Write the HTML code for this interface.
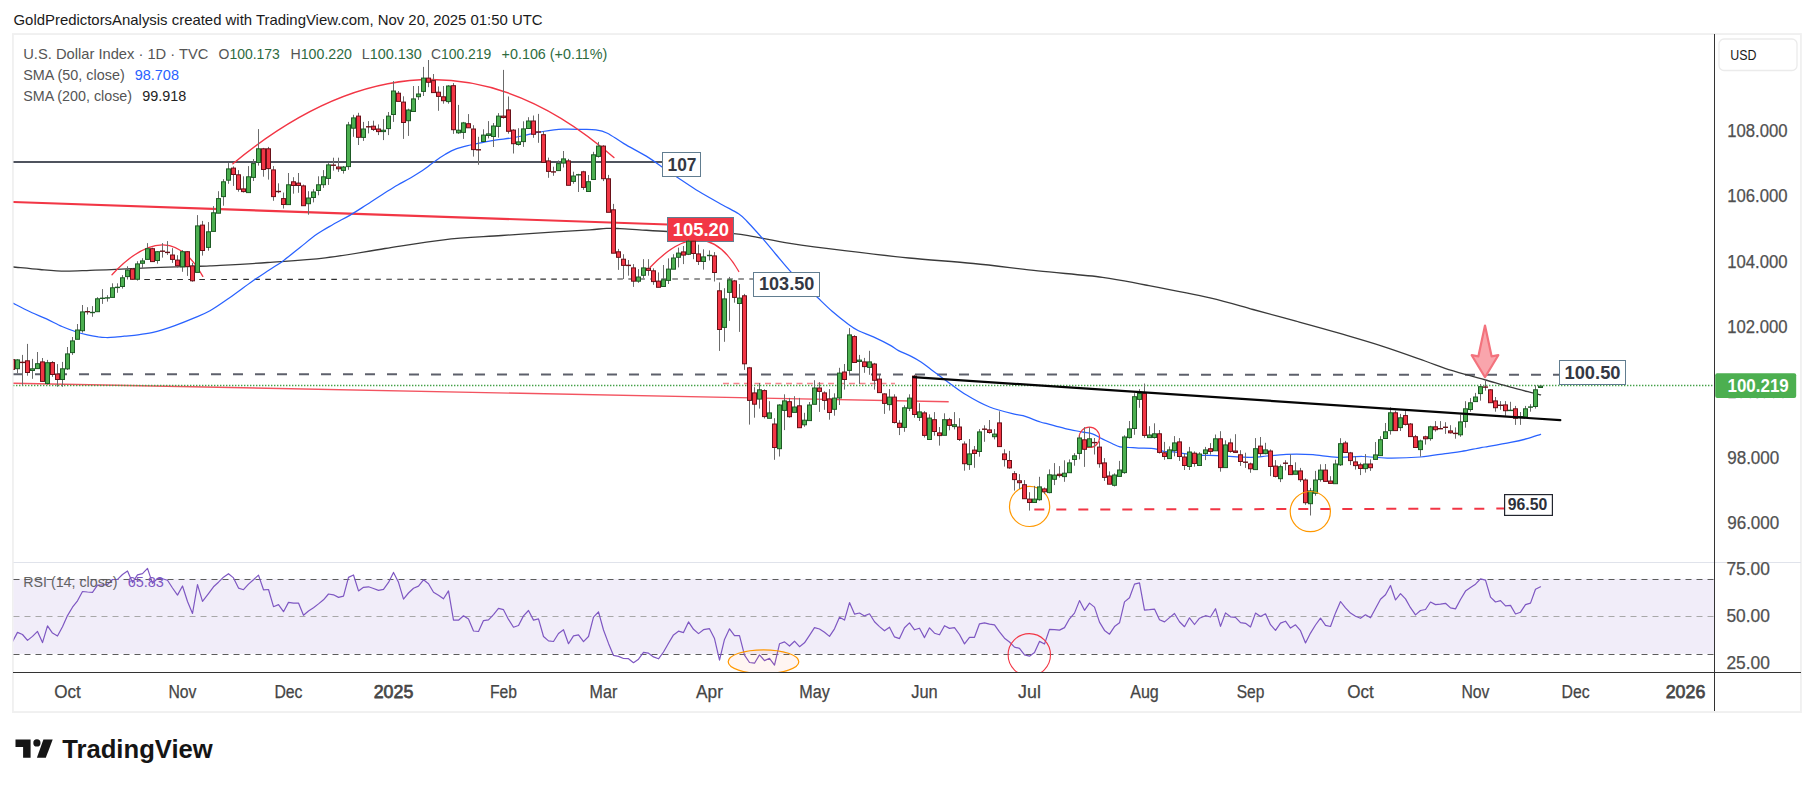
<!DOCTYPE html>
<html><head><meta charset="utf-8"><title>U.S. Dollar Index chart</title>
<style>html,body{margin:0;padding:0;background:#fff;overflow:hidden}body{width:1814px;height:787px;position:relative}</style></head>
<body>
<svg width="1814" height="787" viewBox="0 0 1814 787" font-family='"Liberation Sans", sans-serif' style="position:absolute;left:0;top:0">
<rect x="0" y="0" width="1814" height="787" fill="#ffffff"/>
<rect x="12.9" y="34.05" width="1788" height="678" fill="#ffffff" stroke="#f0f0f0" stroke-width="1.9"/>
<defs><clipPath id="main"><rect x="13.5" y="35" width="1700.5" height="527"/></clipPath><clipPath id="rsi"><rect x="13.5" y="563" width="1700.5" height="109"/></clipPath></defs>
<rect x="13.5" y="578.8" width="1700.5" height="75" fill="#f1edf9"/>
<line x1="13.5" y1="562.5" x2="1801" y2="562.5" stroke="#e0e3eb" stroke-width="1"/>
<line x1="13.5" y1="579.5" x2="1714" y2="579.5" stroke="#5c5c5c" stroke-width="1" stroke-dasharray="6,5"/>
<line x1="13.5" y1="616.5" x2="1714" y2="616.5" stroke="#a8a8a8" stroke-width="1" stroke-dasharray="6,5"/>
<line x1="13.5" y1="654.5" x2="1714" y2="654.5" stroke="#5c5c5c" stroke-width="1" stroke-dasharray="6,5"/>
<g clip-path="url(#main)">
<line x1="13" y1="162" x2="663" y2="162" stroke="#4f535e" stroke-width="2"/>
<line x1="13" y1="202" x2="668" y2="224.5" stroke="#f23645" stroke-width="2.2"/>
<line x1="13" y1="383.2" x2="948.7" y2="401.8" stroke="#f23645" stroke-width="1.4" opacity="0.85"/>
<line x1="144.3" y1="279.5" x2="753.4" y2="278.95" stroke="#2e2e2e" stroke-width="1.1" stroke-dasharray="5.6,5.4"/>
<line x1="13" y1="374.25" x2="1559" y2="374.75" stroke="#5d606b" stroke-width="2" stroke-dasharray="10,12"/>
<line x1="723" y1="383.4" x2="895" y2="383.4" stroke="#f23645" stroke-width="1.5" stroke-dasharray="6,4.5" opacity="0.6"/>
<line x1="13" y1="385.5" x2="1714" y2="385.5" stroke="#43a047" stroke-width="1.3" stroke-dasharray="1.4,1.6"/>
<path d="M13.3,267.0 C17.8,267.4 31.3,268.8 40.0,269.5 C48.7,270.2 57.0,271.0 65.3,271.1 C73.6,271.2 81.6,270.6 90.0,270.3 C98.4,270.0 105.2,269.8 115.8,269.3 C126.4,268.9 140.8,268.1 153.7,267.6 C166.6,267.1 183.6,266.7 193.0,266.4 C202.4,266.1 197.6,266.5 210.0,265.9 C222.4,265.2 248.4,263.9 267.6,262.5 C286.8,261.1 305.8,260.1 325.4,257.8 C345.0,255.5 365.3,251.5 385.0,248.5 C404.7,245.5 424.4,242.0 443.8,239.8 C463.2,237.6 482.4,236.9 501.7,235.5 C521.0,234.1 544.9,232.5 559.6,231.6 C574.3,230.7 582.2,230.3 590.0,229.8 C597.8,229.3 601.5,228.6 606.5,228.4 C611.5,228.2 614.5,228.4 620.0,228.6 C625.5,228.8 631.6,229.3 639.5,229.8 C647.4,230.3 657.5,231.1 667.6,231.5 C677.7,231.9 689.0,232.0 700.0,232.3 C711.0,232.7 724.5,232.8 733.7,233.6 C742.9,234.4 745.8,235.3 755.2,236.9 C764.6,238.5 775.1,241.0 790.0,243.3 C804.9,245.6 824.7,248.2 844.5,250.6 C864.3,253.0 887.5,255.8 909.0,258.0 C930.5,260.1 952.0,261.4 973.5,263.5 C995.0,265.6 1016.5,268.6 1038.0,270.9 C1059.5,273.2 1084.6,274.9 1102.5,277.3 C1120.4,279.7 1127.6,281.6 1145.5,285.0 C1163.4,288.4 1192.1,293.8 1210.0,297.9 C1227.9,302.0 1238.7,305.6 1253.0,309.5 C1267.3,313.4 1281.7,317.2 1296.0,321.2 C1310.3,325.1 1324.7,329.0 1339.0,333.2 C1353.3,337.4 1367.7,341.5 1382.0,346.1 C1396.3,350.7 1414.5,357.3 1425.0,361.0 C1435.5,364.7 1438.1,366.0 1445.0,368.3 C1451.9,370.6 1459.5,372.7 1466.3,374.6 C1473.1,376.6 1478.3,377.9 1485.7,380.0 C1493.1,382.1 1502.6,385.0 1510.6,387.2 C1518.6,389.4 1528.8,391.9 1533.8,393.2 C1538.8,394.5 1539.5,394.6 1540.6,394.9" fill="none" stroke="#3a3a3a" stroke-width="1.3" stroke-linecap="round" />
<path d="M13.0,303.2 C13.6,303.5 13.4,303.4 16.6,305.0 C19.8,306.6 27.1,310.5 32.1,312.8 C37.1,315.1 41.5,316.6 46.5,318.9 C51.5,321.2 57.2,324.4 62.0,326.5 C66.8,328.6 71.0,330.1 75.2,331.5 C79.4,332.9 83.4,333.9 87.3,334.8 C91.2,335.7 95.3,336.4 98.4,336.9 C101.5,337.3 103.2,337.4 106.0,337.5 C108.8,337.6 111.9,337.4 115.0,337.2 C118.1,337.0 120.6,336.6 124.4,336.2 C128.2,335.8 133.4,335.4 138.0,334.8 C142.6,334.2 147.7,333.5 151.9,332.6 C156.1,331.7 159.2,330.8 163.0,329.6 C166.8,328.5 169.8,327.6 174.8,325.7 C179.8,323.8 187.2,320.9 193.1,318.4 C199.0,315.9 203.8,314.3 210.0,310.8 C216.2,307.3 223.0,302.4 230.0,297.5 C237.0,292.6 245.5,286.1 252.0,281.5 C258.5,276.9 264.1,273.4 269.2,270.0 C274.3,266.6 277.3,265.1 282.4,261.4 C287.5,257.6 294.2,252.1 300.0,247.5 C305.8,242.9 311.6,237.9 317.1,234.1 C322.6,230.3 327.5,227.7 333.0,224.5 C338.5,221.3 344.5,218.4 350.2,215.1 C355.9,211.8 361.2,208.2 367.0,204.5 C372.8,200.8 379.9,196.1 385.0,192.8 C390.1,189.6 393.5,187.4 397.7,185.0 C401.9,182.6 405.9,180.6 410.0,178.2 C414.1,175.8 418.2,173.5 422.5,170.6 C426.8,167.7 431.9,163.4 435.7,160.7 C439.4,158.0 441.7,156.4 445.0,154.5 C448.3,152.6 451.3,150.7 455.5,149.1 C459.7,147.5 466.0,146.1 470.4,145.0 C474.8,143.9 477.9,143.4 482.0,142.6 C486.1,141.8 490.2,140.9 495.2,140.1 C500.1,139.3 506.8,138.8 511.7,138.0 C516.6,137.2 519.6,136.4 524.8,135.3 C530.0,134.2 536.6,132.5 542.9,131.5 C549.2,130.5 556.2,129.5 562.8,129.2 C569.4,128.8 577.1,129.3 582.6,129.4 C588.1,129.5 591.7,129.3 595.8,129.9 C599.9,130.5 602.7,130.9 607.4,133.2 C612.1,135.5 617.0,139.5 623.9,143.6 C630.8,147.7 641.7,153.3 648.6,157.6 C655.5,161.9 659.7,165.4 665.2,169.2 C670.7,173.0 676.1,176.5 681.7,180.2 C687.3,183.9 692.3,187.4 699.0,191.5 C705.7,195.6 715.5,201.0 722.1,204.7 C728.7,208.4 734.5,211.1 738.6,213.8 C742.7,216.6 742.8,216.9 746.9,221.2 C751.0,225.5 758.5,233.8 763.4,239.4 C768.2,245.0 771.6,249.3 776.0,254.5 C780.4,259.6 785.0,265.4 789.5,270.3 C794.0,275.2 798.4,279.5 803.0,284.0 C807.6,288.5 812.4,292.8 817.3,297.3 C822.1,301.9 826.9,306.8 832.1,311.3 C837.3,315.8 844.2,321.2 848.6,324.5 C853.0,327.8 854.4,328.7 858.5,330.8 C862.6,332.9 868.2,334.5 873.4,336.9 C878.6,339.3 885.7,342.8 889.9,345.1 C894.1,347.4 894.9,348.7 898.5,350.6 C902.1,352.5 908.0,354.7 911.7,356.6 C915.5,358.5 917.8,359.9 921.0,362.0 C924.2,364.1 926.8,366.3 931.0,369.4 C935.2,372.5 940.4,376.5 946.2,380.7 C952.1,384.9 958.9,390.4 966.1,394.8 C973.3,399.2 981.4,403.8 989.6,407.0 C997.9,410.2 1010.0,412.9 1015.6,414.3 C1021.2,415.8 1018.9,414.4 1023.0,415.7 C1027.1,417.0 1036.3,420.6 1040.4,422.0 C1044.5,423.4 1043.7,422.8 1047.8,423.9 C1051.9,425.0 1059.5,427.3 1065.2,428.6 C1070.9,429.9 1077.2,431.0 1081.7,431.9 C1086.2,432.8 1089.4,432.9 1092.4,433.9 C1095.5,434.9 1097.8,436.6 1100.0,437.7 C1102.2,438.8 1103.6,439.5 1105.6,440.5 C1107.6,441.5 1109.6,442.4 1112.0,443.5 C1114.4,444.6 1116.9,446.2 1119.9,446.9 C1122.9,447.6 1126.7,447.3 1129.8,447.5 C1132.9,447.7 1135.0,448.0 1138.6,448.1 C1142.2,448.2 1148.1,448.1 1151.3,448.3 C1154.5,448.6 1155.8,449.1 1158.0,449.6 C1160.2,450.2 1162.2,451.2 1164.5,451.6 C1166.8,452.0 1167.5,451.2 1171.7,451.7 C1176.0,452.1 1184.8,453.7 1190.0,454.3 C1195.2,454.9 1198.4,455.1 1203.0,455.3 C1207.6,455.5 1209.5,455.4 1217.4,455.7 C1225.3,456.0 1242.2,457.2 1250.4,457.3 C1258.7,457.4 1261.4,456.4 1266.9,456.0 C1272.4,455.6 1278.5,454.9 1283.4,454.6 C1288.3,454.3 1291.6,454.0 1296.5,454.0 C1301.4,454.0 1306.1,454.1 1313.0,454.7 C1319.9,455.2 1329.5,457.0 1337.8,457.3 C1346.1,457.6 1354.3,456.4 1362.6,456.5 C1370.8,456.6 1377.7,458.0 1387.3,458.1 C1396.9,458.2 1410.8,457.8 1420.4,457.0 C1430.1,456.2 1438.3,454.5 1445.2,453.6 C1452.1,452.7 1455.9,452.4 1461.7,451.4 C1467.5,450.4 1476.1,448.5 1480.0,447.8 C1483.9,447.1 1480.0,447.9 1485.1,447.0 C1490.2,446.1 1503.6,443.8 1510.6,442.4 C1517.6,441.0 1522.1,440.0 1527.1,438.7 C1532.1,437.4 1538.3,435.0 1540.6,434.3" fill="none" stroke="#2962ff" stroke-width="1.25" stroke-linecap="round" />
<path d="M112,274.7 Q168.6,214.1 202.8,276.4" fill="none" stroke="#f23645" stroke-width="1.3" stroke-linecap="round"/>
<path d="M232.9,163.7 Q432.4,-1.4 613.9,157.5" fill="none" stroke="#f23645" stroke-width="1.4" stroke-linecap="round"/>
<path d="M650.2,267.3 Q704.2,210.6 738.8,271.5" fill="none" stroke="#f23645" stroke-width="1.3" stroke-linecap="round"/>
<line x1="1034.3" y1="509.6" x2="1504" y2="508.6" stroke="#f23645" stroke-width="2" stroke-dasharray="10,12"/>
<circle cx="1029.6" cy="506.4" r="20.1" fill="none" stroke="#ff9800" stroke-width="1.2"/>
<circle cx="1089.4" cy="437.3" r="10.2" fill="none" stroke="#f23645" stroke-width="1.25"/>
<rect x="662.5" y="152.5" width="38.0" height="24.0" fill="#fff" stroke="#617d90" stroke-width="1"/>
<text x="667.5" y="170.7" font-size="18" fill="#343843" font-weight="bold" text-anchor="start" textLength="29.0" lengthAdjust="spacingAndGlyphs" >107</text>
<rect x="667.5" y="217.5" width="66.0" height="24.0" fill="#f23645" stroke="#617d90" stroke-width="1"/>
<text x="672.8" y="235.6" font-size="18" fill="#ffffff" font-weight="bold" text-anchor="start" textLength="56.2" lengthAdjust="spacingAndGlyphs" >105.20</text>
<rect x="753.5" y="272.5" width="66.0" height="24.0" fill="#fff" stroke="#617d90" stroke-width="1"/>
<text x="759.0" y="290.1" font-size="18" fill="#343843" font-weight="bold" text-anchor="start" textLength="55.3" lengthAdjust="spacingAndGlyphs" >103.50</text>
<rect x="1559.5" y="360.5" width="66.0" height="24.0" fill="#fff" stroke="#617d90" stroke-width="1"/>
<text x="1564.5" y="378.6" font-size="18" fill="#343843" font-weight="bold" text-anchor="start" textLength="56.0" lengthAdjust="spacingAndGlyphs" >100.50</text>
<rect x="1504.6" y="494.6" width="47.8" height="20.8" fill="#fff" stroke="#22252e" stroke-width="1.2"/>
<text x="1507.8" y="510.1" font-size="16.8" fill="#2c303a" font-weight="bold" text-anchor="start" textLength="39.5" lengthAdjust="spacingAndGlyphs" >96.50</text>
<path d="M12.5,359.1V369.3M17.5,359.1V373.3M22.5,354.9V385.4M27.5,343.9V375.7M32.5,358.9V378.8M37.5,352.0V368.5M42.5,358.0V381.2M47.5,359.9V384.6M52.5,361.1V376.8M57.5,364.1V386.8M62.5,361.9V386.8M67.5,347.0V370.0M72.5,337.0V354.9M77.5,324.0V339.2M82.5,305.0V332.6M87.5,307.2V314.6M92.5,306.1V316.8M97.5,297.2V311.6M102.5,289.1V303.9M107.5,295.2V301.6M112.5,283.3V297.2M117.5,283.3V292.8M122.5,275.1V288.6M127.5,266.3V279.5M132.5,268.1V279.5M137.5,261.2V280.6M142.5,258.2V268.1M147.5,243.1V259.3M152.5,247.7V261.8M157.5,251.0V263.7M162.5,243.1V257.6M167.5,241.1V254.9M172.5,248.2V262.9M177.5,255.2V267.6M182.5,250.1V271.8M187.5,251.0V275.9M192.5,262.9V281.7M197.5,215.1V272.2M202.5,220.9V255.6M208.5,222.1V250.7M213.5,206.1V231.3M218.5,191.2V213.2M223.5,179.1V205.7M228.5,163.1V183.8M233.5,166.4V185.9M238.5,170.1V191.7M243.5,176.3V192.5M248.5,166.1V192.5M253.5,159.0V181.0M258.5,129.1V165.6M263.5,147.9V176.7M268.5,146.9V179.6M273.5,166.1V200.8M278.5,183.3V193.2M283.5,192.5V208.5M288.5,173.0V204.4M293.5,177.2V193.7M298.5,173.0V192.8M303.5,184.6V205.6M308.5,191.2V214.7M313.5,189.2V202.4M318.5,176.3V195.3M323.5,170.1V187.9M328.5,163.1V184.9M333.5,157.7V170.6M338.5,157.7V171.9M343.5,166.0V173.6M348.5,121.9V169.8M353.5,114.8V136.8M358.5,112.8V145.0M363.5,121.9V140.9M368.5,121.1V133.4M373.5,120.7V131.0M378.5,124.4V135.1M383.5,119.1V140.1M388.5,112.0V135.1M393.5,81.1V121.9M398.5,91.0V101.2M403.5,96.3V138.9M408.5,108.7V135.9M413.5,86.0V111.5M418.5,86.0V99.9M423.5,66.9V96.0M428.5,60.0V87.2M433.5,74.0V92.5M438.5,86.4V110.8M443.5,86.0V103.7M448.5,85.2V103.7M453.5,83.1V133.9M458.5,104.9V133.9M463.5,121.9V138.9M468.5,114.1V127.7M473.5,125.2V156.6M478.5,136.8V164.8M483.5,129.3V141.4M488.5,121.1V138.4M493.5,123.0V147.0M498.5,113.1V137.6M503.5,69.9V118.6M508.5,96.5V133.7M513.5,129.2V153.5M518.5,128.2V145.7M523.5,121.3V146.9M528.5,117.2V128.4M533.5,115.5V137.8M538.5,113.9V142.8M543.5,131.2V162.2M548.5,157.6V177.8M553.5,166.7V175.8M558.5,160.4V170.5M563.5,151.0V167.5M568.5,158.9V185.2M573.5,171.7V183.7M578.5,173.8V192.0M583.5,170.8V189.8M588.5,175.0V191.5M593.5,151.8V179.4M598.5,141.9V157.6M603.5,145.2V181.1M608.5,174.9V212.1M613.5,203.9V253.1M618.5,248.9V269.9M623.5,254.2V279.0M628.5,260.0V275.7M633.5,264.1V286.9M638.5,269.1V282.8M643.5,259.2V278.2M648.5,259.2V275.7M653.5,268.3V284.8M658.5,272.4V287.3M663.5,265.0V286.4M668.5,258.4V284.0M673.5,254.2V269.1M678.5,247.6V267.4M683.5,246.0V264.1M688.5,239.4V255.1M693.5,240.7V259.2M698.5,244.7V265.0M703.5,249.3V269.6M709.5,250.4V260.5M714.5,252.1V281.5M719.5,282.4V350.9M724.5,288.2V341.8M729.5,276.9V320.9M734.5,279.9V302.7M739.5,284.0V331.9M744.5,293.9V369.9M749.5,366.9V424.6M754.5,387.2V417.7M759.5,383.0V408.6M764.5,389.3V418.5M769.5,401.2V418.2M774.5,418.2V459.8M779.5,404.2V456.5M784.5,394.3V430.1M789.5,397.9V417.7M794.5,396.2V412.3M799.5,397.9V427.6M804.5,412.8V426.8M809.5,402.0V420.5M814.5,380.2V404.2M819.5,382.2V411.9M824.5,391.3V409.8M829.5,389.1V419.7M834.5,393.3V415.7M839.5,367.8V405.0M844.5,364.0V389.6M849.5,328.1V375.1M854.5,335.2V362.4M859.5,354.9V383.9M864.5,357.9V372.8M869.5,350.8V374.8M874.5,362.9V389.6M879.5,374.8V392.4M884.5,393.3V413.9M889.5,389.1V410.6M894.5,394.3V423.5M899.5,420.2V435.1M904.5,405.3V431.8M909.5,394.3V411.1M914.5,374.8V417.7M919.5,403.2V421.0M924.5,411.1V437.5M929.5,414.3V439.4M934.5,412.1V435.7M939.5,427.0V445.6M944.5,413.3V435.2M949.5,417.9V430.3M954.5,412.1V429.4M959.5,418.2V441.0M964.5,441.4V470.7M969.5,439.0V469.9M974.5,446.0V467.8M979.5,429.1V456.7M984.5,425.3V441.8M989.5,420.0V433.6M994.5,429.1V439.4M999.5,411.3V446.5M1004.5,449.3V466.6M1009.5,450.9V468.8M1014.5,471.1V490.6M1019.5,474.1V488.9M1024.5,480.1V498.6M1029.5,492.2V510.6M1034.5,485.9V502.4M1039.5,476.8V500.7M1044.5,487.5V494.1M1049.5,469.4V493.3M1054.5,463.1V485.1M1059.5,466.1V477.6M1064.5,460.3V481.8M1069.5,459.4V472.7M1074.5,453.2V465.7M1079.5,435.5V459.4M1084.5,427.2V466.9M1089.5,427.2V446.7M1094.5,438.0V454.5M1099.5,441.3V467.7M1104.5,458.1V480.9M1109.5,471.4V484.1M1114.5,473.3V486.5M1119.5,460.9V476.3M1124.5,435.3V473.8M1129.5,421.0V438.6M1134.5,393.2V434.8M1139.5,389.1V407.8M1144.5,383.6V437.8M1149.5,426.2V437.5M1154.5,423.3V438.6M1159.5,430.0V453.5M1164.5,441.9V459.8M1169.5,446.4V458.4M1174.5,436.1V456.3M1179.5,438.1V460.9M1184.5,453.5V470.0M1189.5,446.9V470.0M1194.5,451.4V466.7M1199.5,452.2V465.4M1205.5,446.9V460.1M1210.5,443.1V454.6M1215.5,434.5V450.7M1220.5,431.2V471.7M1225.5,440.3V467.5M1230.5,438.6V452.7M1235.5,434.2V452.7M1240.5,450.2V465.9M1245.5,452.7V467.9M1250.5,462.6V472.8M1255.5,438.1V470.0M1260.5,437.0V456.8M1265.5,442.8V454.3M1270.5,449.4V476.1M1275.5,460.1V477.4M1280.5,464.6V482.1M1285.5,460.2V470.4M1290.5,454.4V474.6M1295.5,462.3V474.2M1300.5,467.9V482.0M1305.5,478.4V504.8M1310.5,487.9V515.5M1315.5,470.9V495.7M1320.5,464.3V481.7M1325.5,464.0V481.3M1330.5,476.2V483.8M1335.5,459.7V483.6M1340.5,438.2V466.0M1345.5,440.9V452.4M1350.5,451.9V465.1M1355.5,456.1V469.6M1360.5,462.7V475.1M1365.5,454.1V472.6M1370.5,459.4V470.9M1375.5,442.0V459.4M1380.5,436.2V455.6M1385.5,423.0V438.4M1390.5,407.3V434.6M1395.5,410.6V430.5M1400.5,413.9V431.0M1405.5,410.6V425.5M1410.5,423.0V436.6M1415.5,434.9V447.5M1420.5,439.6V456.6M1425.5,435.7V444.6M1430.5,425.8V440.7M1435.5,421.1V431.6M1440.5,421.1V429.1M1445.5,422.2V433.9M1450.5,425.2V433.5M1455.5,427.4V438.7M1460.5,414.7V436.8M1465.5,401.2V427.7M1470.5,398.1V411.7M1475.5,392.9V401.8M1480.5,384.1V400.7M1485.5,379.4V390.7M1490.5,389.0V402.6M1495.5,397.0V411.7M1500.5,401.1V409.8M1505.5,401.1V415.8M1510.5,401.8V410.6M1515.5,405.9V424.9M1520.5,412.0V424.9M1525.5,405.9V416.9M1530.5,404.2V411.7M1535.5,385.2V408.6M1540.5,385.2V387.4" stroke="#6b6b6b" stroke-width="1" fill="none"/>
<rect x="10.5" y="359.6" width="4" height="9.8" fill="#f23645" stroke="#6a1018" stroke-width="1"/><rect x="15.5" y="359.9" width="4" height="8.8" fill="#4caf50" stroke="#1d5a24" stroke-width="1"/><rect x="20.0" y="361.7" width="5" height="1.4" fill="#6a1018"/><rect x="25.5" y="360.8" width="4" height="11.7" fill="#f23645" stroke="#6a1018" stroke-width="1"/><rect x="30.5" y="368.8" width="4" height="1.7" fill="#4caf50" stroke="#1d5a24" stroke-width="1"/><rect x="35.5" y="363.7" width="4" height="4.9" fill="#4caf50" stroke="#1d5a24" stroke-width="1"/><rect x="40.5" y="361.9" width="4" height="19.5" fill="#f23645" stroke="#6a1018" stroke-width="1"/><rect x="45.5" y="362.7" width="4" height="20.8" fill="#4caf50" stroke="#1d5a24" stroke-width="1"/><rect x="50.5" y="362.6" width="4" height="11.9" fill="#f23645" stroke="#6a1018" stroke-width="1"/><rect x="55.5" y="374.0" width="4" height="5.5" fill="#f23645" stroke="#6a1018" stroke-width="1"/><rect x="60.5" y="368.8" width="4" height="10.7" fill="#4caf50" stroke="#1d5a24" stroke-width="1"/><rect x="65.5" y="353.9" width="4" height="15.0" fill="#4caf50" stroke="#1d5a24" stroke-width="1"/><rect x="70.5" y="340.9" width="4" height="11.7" fill="#4caf50" stroke="#1d5a24" stroke-width="1"/><rect x="75.5" y="330.0" width="4" height="9.3" fill="#4caf50" stroke="#1d5a24" stroke-width="1"/><rect x="80.5" y="311.9" width="4" height="18.8" fill="#4caf50" stroke="#1d5a24" stroke-width="1"/><rect x="85.0" y="311.0" width="5" height="1.4" fill="#6a1018"/><rect x="90.0" y="311.8" width="5" height="1.4" fill="#1d5a24"/><rect x="95.5" y="298.8" width="4" height="12.9" fill="#4caf50" stroke="#1d5a24" stroke-width="1"/><rect x="100.0" y="297.6" width="5" height="1.4" fill="#1d5a24"/><rect x="105.0" y="297.2" width="5" height="1.4" fill="#1d5a24"/><rect x="110.5" y="287.8" width="4" height="9.6" fill="#4caf50" stroke="#1d5a24" stroke-width="1"/><rect x="115.0" y="286.7" width="5" height="1.4" fill="#1d5a24"/><rect x="120.5" y="277.8" width="4" height="8.7" fill="#4caf50" stroke="#1d5a24" stroke-width="1"/><rect x="125.5" y="270.1" width="4" height="6.5" fill="#4caf50" stroke="#1d5a24" stroke-width="1"/><rect x="130.5" y="269.0" width="4" height="10.3" fill="#f23645" stroke="#6a1018" stroke-width="1"/><rect x="135.5" y="263.9" width="4" height="15.4" fill="#4caf50" stroke="#1d5a24" stroke-width="1"/><rect x="140.5" y="260.9" width="4" height="2.4" fill="#4caf50" stroke="#1d5a24" stroke-width="1"/><rect x="145.5" y="248.7" width="4" height="10.7" fill="#4caf50" stroke="#1d5a24" stroke-width="1"/><rect x="150.5" y="248.7" width="4" height="12.9" fill="#f23645" stroke="#6a1018" stroke-width="1"/><rect x="155.5" y="251.7" width="4" height="8.8" fill="#4caf50" stroke="#1d5a24" stroke-width="1"/><rect x="160.0" y="250.5" width="5" height="1.4" fill="#6a1018"/><rect x="165.0" y="251.7" width="5" height="1.4" fill="#6a1018"/><rect x="170.5" y="255.0" width="4" height="4.4" fill="#f23645" stroke="#6a1018" stroke-width="1"/><rect x="175.5" y="260.1" width="4" height="5.6" fill="#f23645" stroke="#6a1018" stroke-width="1"/><rect x="180.5" y="251.7" width="4" height="15.1" fill="#4caf50" stroke="#1d5a24" stroke-width="1"/><rect x="185.5" y="251.7" width="4" height="14.9" fill="#f23645" stroke="#6a1018" stroke-width="1"/><rect x="190.5" y="265.9" width="4" height="14.9" fill="#f23645" stroke="#6a1018" stroke-width="1"/><rect x="195.5" y="225.9" width="4" height="46.5" fill="#4caf50" stroke="#1d5a24" stroke-width="1"/><rect x="200.5" y="225.1" width="4" height="25.4" fill="#f23645" stroke="#6a1018" stroke-width="1"/><rect x="206.5" y="231.8" width="4" height="15.6" fill="#4caf50" stroke="#1d5a24" stroke-width="1"/><rect x="211.5" y="212.8" width="4" height="18.6" fill="#4caf50" stroke="#1d5a24" stroke-width="1"/><rect x="216.5" y="198.6" width="4" height="14.6" fill="#4caf50" stroke="#1d5a24" stroke-width="1"/><rect x="221.5" y="181.8" width="4" height="14.8" fill="#4caf50" stroke="#1d5a24" stroke-width="1"/><rect x="226.5" y="168.9" width="4" height="11.3" fill="#4caf50" stroke="#1d5a24" stroke-width="1"/><rect x="231.5" y="168.1" width="4" height="6.4" fill="#f23645" stroke="#6a1018" stroke-width="1"/><rect x="236.5" y="174.8" width="4" height="14.5" fill="#f23645" stroke="#6a1018" stroke-width="1"/><rect x="241.5" y="188.9" width="4" height="2.7" fill="#f23645" stroke="#6a1018" stroke-width="1"/><rect x="246.5" y="176.8" width="4" height="15.8" fill="#4caf50" stroke="#1d5a24" stroke-width="1"/><rect x="251.5" y="163.6" width="4" height="13.8" fill="#4caf50" stroke="#1d5a24" stroke-width="1"/><rect x="256.5" y="148.8" width="4" height="13.6" fill="#4caf50" stroke="#1d5a24" stroke-width="1"/><rect x="261.5" y="148.8" width="4" height="20.7" fill="#f23645" stroke="#6a1018" stroke-width="1"/><rect x="266.5" y="148.8" width="4" height="19.8" fill="#f23645" stroke="#6a1018" stroke-width="1"/><rect x="271.5" y="169.9" width="4" height="26.7" fill="#f23645" stroke="#6a1018" stroke-width="1"/><rect x="276.0" y="190.8" width="5" height="1.4" fill="#6a1018"/><rect x="281.5" y="198.6" width="4" height="5.9" fill="#f23645" stroke="#6a1018" stroke-width="1"/><rect x="286.5" y="184.8" width="4" height="19.8" fill="#4caf50" stroke="#1d5a24" stroke-width="1"/><rect x="291.5" y="181.8" width="4" height="3.7" fill="#f23645" stroke="#6a1018" stroke-width="1"/><rect x="296.5" y="183.1" width="4" height="2.4" fill="#f23645" stroke="#6a1018" stroke-width="1"/><rect x="301.5" y="185.9" width="4" height="19.8" fill="#f23645" stroke="#6a1018" stroke-width="1"/><rect x="306.5" y="198.0" width="4" height="5.7" fill="#4caf50" stroke="#1d5a24" stroke-width="1"/><rect x="311.5" y="192.0" width="4" height="5.5" fill="#4caf50" stroke="#1d5a24" stroke-width="1"/><rect x="316.5" y="184.8" width="4" height="5.7" fill="#4caf50" stroke="#1d5a24" stroke-width="1"/><rect x="321.5" y="176.8" width="4" height="7.9" fill="#4caf50" stroke="#1d5a24" stroke-width="1"/><rect x="326.5" y="164.9" width="4" height="13.5" fill="#4caf50" stroke="#1d5a24" stroke-width="1"/><rect x="331.0" y="164.5" width="5" height="1.4" fill="#6a1018"/><rect x="336.5" y="167.0" width="4" height="1.8" fill="#f23645" stroke="#6a1018" stroke-width="1"/><rect x="341.5" y="167.0" width="4" height="3.4" fill="#4caf50" stroke="#1d5a24" stroke-width="1"/><rect x="346.5" y="124.9" width="4" height="41.7" fill="#4caf50" stroke="#1d5a24" stroke-width="1"/><rect x="351.5" y="117.9" width="4" height="10.3" fill="#4caf50" stroke="#1d5a24" stroke-width="1"/><rect x="356.5" y="116.1" width="4" height="21.2" fill="#f23645" stroke="#6a1018" stroke-width="1"/><rect x="361.5" y="129.0" width="4" height="8.4" fill="#4caf50" stroke="#1d5a24" stroke-width="1"/><rect x="366.0" y="126.1" width="5" height="1.4" fill="#6a1018"/><rect x="371.5" y="126.2" width="4" height="3.2" fill="#f23645" stroke="#6a1018" stroke-width="1"/><rect x="376.5" y="129.0" width="4" height="2.6" fill="#f23645" stroke="#6a1018" stroke-width="1"/><rect x="381.5" y="130.2" width="4" height="1.4" fill="#4caf50" stroke="#1d5a24" stroke-width="1"/><rect x="386.5" y="116.1" width="4" height="12.5" fill="#4caf50" stroke="#1d5a24" stroke-width="1"/><rect x="391.5" y="91.0" width="4" height="23.5" fill="#4caf50" stroke="#1d5a24" stroke-width="1"/><rect x="396.5" y="93.2" width="4" height="8.2" fill="#f23645" stroke="#6a1018" stroke-width="1"/><rect x="401.5" y="102.1" width="4" height="20.4" fill="#f23645" stroke="#6a1018" stroke-width="1"/><rect x="406.5" y="110.0" width="4" height="10.7" fill="#4caf50" stroke="#1d5a24" stroke-width="1"/><rect x="411.5" y="98.9" width="4" height="12.6" fill="#4caf50" stroke="#1d5a24" stroke-width="1"/><rect x="416.5" y="94.0" width="4" height="2.7" fill="#4caf50" stroke="#1d5a24" stroke-width="1"/><rect x="421.5" y="78.1" width="4" height="13.3" fill="#4caf50" stroke="#1d5a24" stroke-width="1"/><rect x="426.5" y="78.1" width="4" height="4.2" fill="#f23645" stroke="#6a1018" stroke-width="1"/><rect x="431.5" y="80.6" width="4" height="12.0" fill="#f23645" stroke="#6a1018" stroke-width="1"/><rect x="436.5" y="92.2" width="4" height="4.2" fill="#f23645" stroke="#6a1018" stroke-width="1"/><rect x="441.5" y="96.8" width="4" height="3.9" fill="#f23645" stroke="#6a1018" stroke-width="1"/><rect x="446.5" y="86.0" width="4" height="15.6" fill="#4caf50" stroke="#1d5a24" stroke-width="1"/><rect x="451.5" y="85.7" width="4" height="44.0" fill="#f23645" stroke="#6a1018" stroke-width="1"/><rect x="456.5" y="130.2" width="4" height="2.6" fill="#4caf50" stroke="#1d5a24" stroke-width="1"/><rect x="461.5" y="122.9" width="4" height="9.5" fill="#4caf50" stroke="#1d5a24" stroke-width="1"/><rect x="466.5" y="123.7" width="4" height="4.1" fill="#f23645" stroke="#6a1018" stroke-width="1"/><rect x="471.5" y="129.0" width="4" height="20.6" fill="#f23645" stroke="#6a1018" stroke-width="1"/><rect x="476.0" y="149.1" width="5" height="1.4" fill="#6a1018"/><rect x="481.5" y="135.1" width="4" height="6.4" fill="#4caf50" stroke="#1d5a24" stroke-width="1"/><rect x="486.5" y="133.9" width="4" height="1.6" fill="#4caf50" stroke="#1d5a24" stroke-width="1"/><rect x="491.5" y="126.0" width="4" height="10.5" fill="#4caf50" stroke="#1d5a24" stroke-width="1"/><rect x="496.5" y="116.1" width="4" height="10.3" fill="#4caf50" stroke="#1d5a24" stroke-width="1"/><rect x="501.5" y="116.1" width="4" height="1.4" fill="#f23645" stroke="#6a1018" stroke-width="1"/><rect x="506.5" y="109.9" width="4" height="21.4" fill="#f23645" stroke="#6a1018" stroke-width="1"/><rect x="511.5" y="130.1" width="4" height="13.6" fill="#f23645" stroke="#6a1018" stroke-width="1"/><rect x="516.5" y="141.9" width="4" height="2.6" fill="#4caf50" stroke="#1d5a24" stroke-width="1"/><rect x="521.5" y="128.9" width="4" height="12.7" fill="#4caf50" stroke="#1d5a24" stroke-width="1"/><rect x="526.5" y="121.0" width="4" height="7.5" fill="#4caf50" stroke="#1d5a24" stroke-width="1"/><rect x="531.5" y="121.0" width="4" height="13.3" fill="#f23645" stroke="#6a1018" stroke-width="1"/><rect x="536.0" y="131.3" width="5" height="1.4" fill="#6a1018"/><rect x="541.5" y="134.7" width="4" height="27.7" fill="#f23645" stroke="#6a1018" stroke-width="1"/><rect x="546.5" y="160.9" width="4" height="10.5" fill="#f23645" stroke="#6a1018" stroke-width="1"/><rect x="551.0" y="171.2" width="5" height="1.4" fill="#6a1018"/><rect x="556.5" y="163.6" width="4" height="7.0" fill="#4caf50" stroke="#1d5a24" stroke-width="1"/><rect x="561.5" y="158.9" width="4" height="4.2" fill="#4caf50" stroke="#1d5a24" stroke-width="1"/><rect x="566.5" y="160.9" width="4" height="24.4" fill="#f23645" stroke="#6a1018" stroke-width="1"/><rect x="571.5" y="176.0" width="4" height="5.4" fill="#4caf50" stroke="#1d5a24" stroke-width="1"/><rect x="576.0" y="174.1" width="5" height="1.4" fill="#1d5a24"/><rect x="581.5" y="171.8" width="4" height="15.6" fill="#f23645" stroke="#6a1018" stroke-width="1"/><rect x="586.5" y="181.7" width="4" height="9.8" fill="#4caf50" stroke="#1d5a24" stroke-width="1"/><rect x="591.5" y="154.8" width="4" height="24.7" fill="#4caf50" stroke="#1d5a24" stroke-width="1"/><rect x="596.5" y="146.1" width="4" height="10.3" fill="#4caf50" stroke="#1d5a24" stroke-width="1"/><rect x="601.5" y="146.1" width="4" height="32.6" fill="#f23645" stroke="#6a1018" stroke-width="1"/><rect x="606.5" y="178.8" width="4" height="33.5" fill="#f23645" stroke="#6a1018" stroke-width="1"/><rect x="611.5" y="209.8" width="4" height="43.4" fill="#f23645" stroke="#6a1018" stroke-width="1"/><rect x="616.5" y="251.8" width="4" height="5.5" fill="#f23645" stroke="#6a1018" stroke-width="1"/><rect x="621.5" y="259.2" width="4" height="6.2" fill="#f23645" stroke="#6a1018" stroke-width="1"/><rect x="626.0" y="264.7" width="5" height="1.4" fill="#6a1018"/><rect x="631.5" y="267.9" width="4" height="13.3" fill="#f23645" stroke="#6a1018" stroke-width="1"/><rect x="636.5" y="277.0" width="4" height="4.2" fill="#4caf50" stroke="#1d5a24" stroke-width="1"/><rect x="641.5" y="267.9" width="4" height="7.4" fill="#4caf50" stroke="#1d5a24" stroke-width="1"/><rect x="646.5" y="268.3" width="4" height="2.1" fill="#f23645" stroke="#6a1018" stroke-width="1"/><rect x="651.5" y="270.8" width="4" height="10.8" fill="#f23645" stroke="#6a1018" stroke-width="1"/><rect x="656.5" y="281.1" width="4" height="6.2" fill="#f23645" stroke="#6a1018" stroke-width="1"/><rect x="661.5" y="279.8" width="4" height="6.7" fill="#4caf50" stroke="#1d5a24" stroke-width="1"/><rect x="666.5" y="269.1" width="4" height="11.3" fill="#4caf50" stroke="#1d5a24" stroke-width="1"/><rect x="671.5" y="258.0" width="4" height="11.2" fill="#4caf50" stroke="#1d5a24" stroke-width="1"/><rect x="676.5" y="253.1" width="4" height="4.2" fill="#4caf50" stroke="#1d5a24" stroke-width="1"/><rect x="681.5" y="251.9" width="4" height="3.2" fill="#f23645" stroke="#6a1018" stroke-width="1"/><rect x="686.5" y="241.2" width="4" height="13.1" fill="#4caf50" stroke="#1d5a24" stroke-width="1"/><rect x="691.5" y="241.2" width="4" height="12.3" fill="#f23645" stroke="#6a1018" stroke-width="1"/><rect x="696.5" y="253.9" width="4" height="7.5" fill="#f23645" stroke="#6a1018" stroke-width="1"/><rect x="701.5" y="256.9" width="4" height="4.6" fill="#4caf50" stroke="#1d5a24" stroke-width="1"/><rect x="707.0" y="254.8" width="5" height="1.4" fill="#1d5a24"/><rect x="712.5" y="255.9" width="4" height="16.6" fill="#f23645" stroke="#6a1018" stroke-width="1"/><rect x="717.5" y="290.8" width="4" height="38.7" fill="#f23645" stroke="#6a1018" stroke-width="1"/><rect x="722.5" y="298.9" width="4" height="28.5" fill="#4caf50" stroke="#1d5a24" stroke-width="1"/><rect x="727.5" y="279.9" width="4" height="12.5" fill="#4caf50" stroke="#1d5a24" stroke-width="1"/><rect x="732.5" y="280.9" width="4" height="16.5" fill="#f23645" stroke="#6a1018" stroke-width="1"/><rect x="737.5" y="298.1" width="4" height="5.4" fill="#4caf50" stroke="#1d5a24" stroke-width="1"/><rect x="742.5" y="295.8" width="4" height="68.0" fill="#f23645" stroke="#6a1018" stroke-width="1"/><rect x="747.5" y="367.8" width="4" height="32.6" fill="#f23645" stroke="#6a1018" stroke-width="1"/><rect x="752.5" y="392.9" width="4" height="11.3" fill="#f23645" stroke="#6a1018" stroke-width="1"/><rect x="757.5" y="389.8" width="4" height="9.3" fill="#4caf50" stroke="#1d5a24" stroke-width="1"/><rect x="762.5" y="390.6" width="4" height="26.0" fill="#f23645" stroke="#6a1018" stroke-width="1"/><rect x="767.5" y="412.9" width="4" height="5.4" fill="#4caf50" stroke="#1d5a24" stroke-width="1"/><rect x="772.5" y="424.0" width="4" height="23.5" fill="#f23645" stroke="#6a1018" stroke-width="1"/><rect x="777.5" y="405.0" width="4" height="43.7" fill="#4caf50" stroke="#1d5a24" stroke-width="1"/><rect x="782.5" y="400.9" width="4" height="9.5" fill="#4caf50" stroke="#1d5a24" stroke-width="1"/><rect x="787.5" y="401.7" width="4" height="15.0" fill="#f23645" stroke="#6a1018" stroke-width="1"/><rect x="792.5" y="407.0" width="4" height="5.4" fill="#4caf50" stroke="#1d5a24" stroke-width="1"/><rect x="797.5" y="405.8" width="4" height="21.9" fill="#f23645" stroke="#6a1018" stroke-width="1"/><rect x="802.5" y="420.2" width="4" height="4.6" fill="#4caf50" stroke="#1d5a24" stroke-width="1"/><rect x="807.5" y="405.0" width="4" height="15.6" fill="#4caf50" stroke="#1d5a24" stroke-width="1"/><rect x="812.5" y="388.0" width="4" height="16.3" fill="#4caf50" stroke="#1d5a24" stroke-width="1"/><rect x="817.5" y="388.0" width="4" height="3.4" fill="#f23645" stroke="#6a1018" stroke-width="1"/><rect x="822.5" y="392.9" width="4" height="7.5" fill="#f23645" stroke="#6a1018" stroke-width="1"/><rect x="827.5" y="398.9" width="4" height="13.6" fill="#f23645" stroke="#6a1018" stroke-width="1"/><rect x="832.5" y="398.1" width="4" height="11.2" fill="#4caf50" stroke="#1d5a24" stroke-width="1"/><rect x="837.5" y="373.1" width="4" height="24.9" fill="#4caf50" stroke="#1d5a24" stroke-width="1"/><rect x="842.5" y="372.0" width="4" height="7.5" fill="#f23645" stroke="#6a1018" stroke-width="1"/><rect x="847.5" y="334.9" width="4" height="35.5" fill="#4caf50" stroke="#1d5a24" stroke-width="1"/><rect x="852.5" y="336.6" width="4" height="25.9" fill="#f23645" stroke="#6a1018" stroke-width="1"/><rect x="857.5" y="360.1" width="4" height="1.4" fill="#4caf50" stroke="#1d5a24" stroke-width="1"/><rect x="862.5" y="361.9" width="4" height="4.7" fill="#f23645" stroke="#6a1018" stroke-width="1"/><rect x="867.5" y="361.9" width="4" height="5.5" fill="#4caf50" stroke="#1d5a24" stroke-width="1"/><rect x="872.5" y="364.0" width="4" height="16.3" fill="#f23645" stroke="#6a1018" stroke-width="1"/><rect x="877.5" y="379.1" width="4" height="13.5" fill="#f23645" stroke="#6a1018" stroke-width="1"/><rect x="882.5" y="393.9" width="4" height="9.5" fill="#f23645" stroke="#6a1018" stroke-width="1"/><rect x="887.5" y="397.1" width="4" height="7.5" fill="#4caf50" stroke="#1d5a24" stroke-width="1"/><rect x="892.5" y="397.1" width="4" height="25.4" fill="#f23645" stroke="#6a1018" stroke-width="1"/><rect x="897.5" y="423.2" width="4" height="4.2" fill="#f23645" stroke="#6a1018" stroke-width="1"/><rect x="902.5" y="407.8" width="4" height="19.6" fill="#4caf50" stroke="#1d5a24" stroke-width="1"/><rect x="907.5" y="398.1" width="4" height="10.2" fill="#4caf50" stroke="#1d5a24" stroke-width="1"/><rect x="912.5" y="376.1" width="4" height="38.4" fill="#f23645" stroke="#6a1018" stroke-width="1"/><rect x="917.5" y="411.9" width="4" height="5.5" fill="#4caf50" stroke="#1d5a24" stroke-width="1"/><rect x="922.5" y="412.9" width="4" height="22.5" fill="#f23645" stroke="#6a1018" stroke-width="1"/><rect x="927.5" y="418.1" width="4" height="21.4" fill="#4caf50" stroke="#1d5a24" stroke-width="1"/><rect x="932.5" y="419.7" width="4" height="11.8" fill="#f23645" stroke="#6a1018" stroke-width="1"/><rect x="937.5" y="432.9" width="4" height="2.7" fill="#f23645" stroke="#6a1018" stroke-width="1"/><rect x="942.5" y="419.7" width="4" height="15.6" fill="#4caf50" stroke="#1d5a24" stroke-width="1"/><rect x="947.5" y="419.7" width="4" height="5.7" fill="#f23645" stroke="#6a1018" stroke-width="1"/><rect x="952.5" y="424.7" width="4" height="1.9" fill="#4caf50" stroke="#1d5a24" stroke-width="1"/><rect x="957.5" y="427.0" width="4" height="12.5" fill="#f23645" stroke="#6a1018" stroke-width="1"/><rect x="962.5" y="444.0" width="4" height="19.7" fill="#f23645" stroke="#6a1018" stroke-width="1"/><rect x="967.5" y="453.9" width="4" height="10.7" fill="#4caf50" stroke="#1d5a24" stroke-width="1"/><rect x="972.5" y="450.1" width="4" height="3.4" fill="#f23645" stroke="#6a1018" stroke-width="1"/><rect x="977.5" y="431.9" width="4" height="19.6" fill="#4caf50" stroke="#1d5a24" stroke-width="1"/><rect x="982.0" y="428.5" width="5" height="1.4" fill="#6a1018"/><rect x="987.5" y="429.9" width="4" height="2.6" fill="#f23645" stroke="#6a1018" stroke-width="1"/><rect x="992.5" y="434.1" width="4" height="2.6" fill="#4caf50" stroke="#1d5a24" stroke-width="1"/><rect x="997.5" y="422.9" width="4" height="23.7" fill="#f23645" stroke="#6a1018" stroke-width="1"/><rect x="1002.5" y="453.9" width="4" height="5.7" fill="#f23645" stroke="#6a1018" stroke-width="1"/><rect x="1007.5" y="460.5" width="4" height="7.4" fill="#f23645" stroke="#6a1018" stroke-width="1"/><rect x="1012.5" y="473.7" width="4" height="5.9" fill="#f23645" stroke="#6a1018" stroke-width="1"/><rect x="1017.5" y="480.8" width="4" height="1.9" fill="#f23645" stroke="#6a1018" stroke-width="1"/><rect x="1022.5" y="484.7" width="4" height="14.0" fill="#f23645" stroke="#6a1018" stroke-width="1"/><rect x="1027.5" y="499.1" width="4" height="3.4" fill="#f23645" stroke="#6a1018" stroke-width="1"/><rect x="1032.5" y="499.1" width="4" height="3.4" fill="#4caf50" stroke="#1d5a24" stroke-width="1"/><rect x="1037.5" y="486.9" width="4" height="12.8" fill="#4caf50" stroke="#1d5a24" stroke-width="1"/><rect x="1042.5" y="488.9" width="4" height="2.9" fill="#f23645" stroke="#6a1018" stroke-width="1"/><rect x="1047.5" y="474.8" width="4" height="17.8" fill="#4caf50" stroke="#1d5a24" stroke-width="1"/><rect x="1052.5" y="475.1" width="4" height="4.2" fill="#4caf50" stroke="#1d5a24" stroke-width="1"/><rect x="1057.5" y="474.2" width="4" height="1.4" fill="#f23645" stroke="#6a1018" stroke-width="1"/><rect x="1062.5" y="473.2" width="4" height="3.4" fill="#4caf50" stroke="#1d5a24" stroke-width="1"/><rect x="1067.5" y="462.9" width="4" height="9.8" fill="#4caf50" stroke="#1d5a24" stroke-width="1"/><rect x="1072.5" y="455.8" width="4" height="3.7" fill="#4caf50" stroke="#1d5a24" stroke-width="1"/><rect x="1077.5" y="438.0" width="4" height="15.4" fill="#4caf50" stroke="#1d5a24" stroke-width="1"/><rect x="1082.5" y="439.8" width="4" height="9.5" fill="#f23645" stroke="#6a1018" stroke-width="1"/><rect x="1087.5" y="438.8" width="4" height="8.0" fill="#4caf50" stroke="#1d5a24" stroke-width="1"/><rect x="1092.0" y="441.9" width="5" height="1.4" fill="#6a1018"/><rect x="1097.5" y="447.1" width="4" height="16.6" fill="#f23645" stroke="#6a1018" stroke-width="1"/><rect x="1102.5" y="462.9" width="4" height="14.5" fill="#f23645" stroke="#6a1018" stroke-width="1"/><rect x="1107.5" y="476.0" width="4" height="8.2" fill="#f23645" stroke="#6a1018" stroke-width="1"/><rect x="1112.5" y="475.0" width="4" height="10.3" fill="#4caf50" stroke="#1d5a24" stroke-width="1"/><rect x="1117.5" y="470.0" width="4" height="6.4" fill="#4caf50" stroke="#1d5a24" stroke-width="1"/><rect x="1122.5" y="437.0" width="4" height="35.6" fill="#4caf50" stroke="#1d5a24" stroke-width="1"/><rect x="1127.5" y="428.9" width="4" height="8.7" fill="#4caf50" stroke="#1d5a24" stroke-width="1"/><rect x="1132.5" y="396.7" width="4" height="31.8" fill="#4caf50" stroke="#1d5a24" stroke-width="1"/><rect x="1137.5" y="393.4" width="4" height="6.0" fill="#4caf50" stroke="#1d5a24" stroke-width="1"/><rect x="1142.5" y="393.4" width="4" height="42.0" fill="#f23645" stroke="#6a1018" stroke-width="1"/><rect x="1147.5" y="435.0" width="4" height="2.6" fill="#4caf50" stroke="#1d5a24" stroke-width="1"/><rect x="1152.5" y="433.8" width="4" height="3.7" fill="#4caf50" stroke="#1d5a24" stroke-width="1"/><rect x="1157.5" y="433.8" width="4" height="18.6" fill="#f23645" stroke="#6a1018" stroke-width="1"/><rect x="1162.5" y="452.8" width="4" height="3.7" fill="#f23645" stroke="#6a1018" stroke-width="1"/><rect x="1167.5" y="449.9" width="4" height="8.7" fill="#4caf50" stroke="#1d5a24" stroke-width="1"/><rect x="1172.5" y="442.9" width="4" height="7.7" fill="#4caf50" stroke="#1d5a24" stroke-width="1"/><rect x="1177.5" y="441.9" width="4" height="14.6" fill="#f23645" stroke="#6a1018" stroke-width="1"/><rect x="1182.5" y="457.0" width="4" height="8.5" fill="#f23645" stroke="#6a1018" stroke-width="1"/><rect x="1187.5" y="452.0" width="4" height="14.5" fill="#4caf50" stroke="#1d5a24" stroke-width="1"/><rect x="1192.5" y="453.2" width="4" height="10.3" fill="#f23645" stroke="#6a1018" stroke-width="1"/><rect x="1197.5" y="454.0" width="4" height="11.5" fill="#4caf50" stroke="#1d5a24" stroke-width="1"/><rect x="1203.5" y="449.9" width="4" height="3.7" fill="#4caf50" stroke="#1d5a24" stroke-width="1"/><rect x="1208.5" y="448.7" width="4" height="2.7" fill="#f23645" stroke="#6a1018" stroke-width="1"/><rect x="1213.5" y="438.8" width="4" height="12.0" fill="#4caf50" stroke="#1d5a24" stroke-width="1"/><rect x="1218.5" y="438.8" width="4" height="28.8" fill="#f23645" stroke="#6a1018" stroke-width="1"/><rect x="1223.5" y="444.9" width="4" height="22.7" fill="#4caf50" stroke="#1d5a24" stroke-width="1"/><rect x="1228.5" y="442.9" width="4" height="8.5" fill="#f23645" stroke="#6a1018" stroke-width="1"/><rect x="1233.5" y="451.0" width="4" height="1.4" fill="#f23645" stroke="#6a1018" stroke-width="1"/><rect x="1238.5" y="454.8" width="4" height="6.7" fill="#f23645" stroke="#6a1018" stroke-width="1"/><rect x="1243.0" y="461.5" width="5" height="1.4" fill="#6a1018"/><rect x="1248.5" y="463.9" width="4" height="4.9" fill="#f23645" stroke="#6a1018" stroke-width="1"/><rect x="1253.5" y="448.7" width="4" height="20.9" fill="#4caf50" stroke="#1d5a24" stroke-width="1"/><rect x="1258.5" y="446.1" width="4" height="7.5" fill="#f23645" stroke="#6a1018" stroke-width="1"/><rect x="1263.5" y="449.9" width="4" height="3.7" fill="#4caf50" stroke="#1d5a24" stroke-width="1"/><rect x="1268.5" y="451.0" width="4" height="15.5" fill="#f23645" stroke="#6a1018" stroke-width="1"/><rect x="1273.5" y="466.1" width="4" height="10.3" fill="#f23645" stroke="#6a1018" stroke-width="1"/><rect x="1278.5" y="466.7" width="4" height="12.0" fill="#4caf50" stroke="#1d5a24" stroke-width="1"/><rect x="1283.0" y="462.5" width="5" height="1.4" fill="#6a1018"/><rect x="1288.5" y="465.6" width="4" height="9.0" fill="#f23645" stroke="#6a1018" stroke-width="1"/><rect x="1293.5" y="470.9" width="4" height="3.4" fill="#4caf50" stroke="#1d5a24" stroke-width="1"/><rect x="1298.5" y="470.9" width="4" height="8.8" fill="#f23645" stroke="#6a1018" stroke-width="1"/><rect x="1303.5" y="480.0" width="4" height="22.7" fill="#f23645" stroke="#6a1018" stroke-width="1"/><rect x="1308.5" y="490.9" width="4" height="12.8" fill="#4caf50" stroke="#1d5a24" stroke-width="1"/><rect x="1313.5" y="480.0" width="4" height="13.3" fill="#4caf50" stroke="#1d5a24" stroke-width="1"/><rect x="1318.5" y="470.1" width="4" height="9.5" fill="#4caf50" stroke="#1d5a24" stroke-width="1"/><rect x="1323.5" y="470.1" width="4" height="11.3" fill="#f23645" stroke="#6a1018" stroke-width="1"/><rect x="1328.5" y="481.0" width="4" height="2.4" fill="#f23645" stroke="#6a1018" stroke-width="1"/><rect x="1333.5" y="464.0" width="4" height="19.7" fill="#4caf50" stroke="#1d5a24" stroke-width="1"/><rect x="1338.5" y="443.7" width="4" height="21.1" fill="#4caf50" stroke="#1d5a24" stroke-width="1"/><rect x="1343.5" y="443.0" width="4" height="9.5" fill="#f23645" stroke="#6a1018" stroke-width="1"/><rect x="1348.5" y="452.9" width="4" height="7.7" fill="#f23645" stroke="#6a1018" stroke-width="1"/><rect x="1353.5" y="461.9" width="4" height="3.7" fill="#f23645" stroke="#6a1018" stroke-width="1"/><rect x="1358.5" y="464.8" width="4" height="3.7" fill="#f23645" stroke="#6a1018" stroke-width="1"/><rect x="1363.5" y="464.0" width="4" height="4.6" fill="#4caf50" stroke="#1d5a24" stroke-width="1"/><rect x="1368.5" y="464.0" width="4" height="3.7" fill="#f23645" stroke="#6a1018" stroke-width="1"/><rect x="1373.5" y="454.9" width="4" height="4.5" fill="#4caf50" stroke="#1d5a24" stroke-width="1"/><rect x="1378.5" y="439.7" width="4" height="15.9" fill="#4caf50" stroke="#1d5a24" stroke-width="1"/><rect x="1383.5" y="431.8" width="4" height="6.7" fill="#4caf50" stroke="#1d5a24" stroke-width="1"/><rect x="1388.5" y="412.8" width="4" height="17.8" fill="#4caf50" stroke="#1d5a24" stroke-width="1"/><rect x="1393.5" y="412.8" width="4" height="17.8" fill="#f23645" stroke="#6a1018" stroke-width="1"/><rect x="1398.5" y="417.8" width="4" height="9.8" fill="#4caf50" stroke="#1d5a24" stroke-width="1"/><rect x="1403.5" y="415.6" width="4" height="8.8" fill="#f23645" stroke="#6a1018" stroke-width="1"/><rect x="1408.5" y="424.0" width="4" height="12.6" fill="#f23645" stroke="#6a1018" stroke-width="1"/><rect x="1413.5" y="436.7" width="4" height="10.8" fill="#f23645" stroke="#6a1018" stroke-width="1"/><rect x="1418.5" y="440.9" width="4" height="8.7" fill="#4caf50" stroke="#1d5a24" stroke-width="1"/><rect x="1423.5" y="436.8" width="4" height="2.0" fill="#f23645" stroke="#6a1018" stroke-width="1"/><rect x="1428.5" y="426.8" width="4" height="11.8" fill="#4caf50" stroke="#1d5a24" stroke-width="1"/><rect x="1433.5" y="426.8" width="4" height="2.9" fill="#f23645" stroke="#6a1018" stroke-width="1"/><rect x="1438.0" y="428.0" width="5" height="1.4" fill="#6a1018"/><rect x="1443.0" y="426.6" width="5" height="1.4" fill="#6a1018"/><rect x="1448.5" y="430.9" width="4" height="1.9" fill="#f23645" stroke="#6a1018" stroke-width="1"/><rect x="1453.0" y="432.7" width="5" height="1.4" fill="#6a1018"/><rect x="1458.5" y="421.9" width="4" height="12.9" fill="#4caf50" stroke="#1d5a24" stroke-width="1"/><rect x="1463.5" y="408.8" width="4" height="12.7" fill="#4caf50" stroke="#1d5a24" stroke-width="1"/><rect x="1468.5" y="402.8" width="4" height="6.7" fill="#4caf50" stroke="#1d5a24" stroke-width="1"/><rect x="1473.5" y="397.0" width="4" height="4.6" fill="#4caf50" stroke="#1d5a24" stroke-width="1"/><rect x="1478.5" y="386.7" width="4" height="6.9" fill="#4caf50" stroke="#1d5a24" stroke-width="1"/><rect x="1483.0" y="386.4" width="5" height="1.4" fill="#6a1018"/><rect x="1488.5" y="389.8" width="4" height="12.9" fill="#f23645" stroke="#6a1018" stroke-width="1"/><rect x="1493.5" y="400.9" width="4" height="6.8" fill="#f23645" stroke="#6a1018" stroke-width="1"/><rect x="1498.0" y="404.6" width="5" height="1.4" fill="#6a1018"/><rect x="1503.5" y="404.9" width="4" height="5.8" fill="#f23645" stroke="#6a1018" stroke-width="1"/><rect x="1508.0" y="409.7" width="5" height="1.4" fill="#1d5a24"/><rect x="1513.5" y="408.8" width="4" height="9.5" fill="#f23645" stroke="#6a1018" stroke-width="1"/><rect x="1518.0" y="416.0" width="5" height="1.4" fill="#1d5a24"/><rect x="1523.5" y="408.8" width="4" height="8.2" fill="#4caf50" stroke="#1d5a24" stroke-width="1"/><rect x="1528.0" y="406.4" width="5" height="1.4" fill="#1d5a24"/><rect x="1533.5" y="389.8" width="4" height="16.7" fill="#4caf50" stroke="#1d5a24" stroke-width="1"/><rect x="1538.5" y="386.1" width="4" height="1.4" fill="#4caf50" stroke="#1d5a24" stroke-width="1"/>
<circle cx="1310.3" cy="511.6" r="20.1" fill="none" stroke="#ff9800" stroke-width="1.2"/>
<line x1="913.3" y1="377.05" x2="1560.3" y2="420.15" stroke="#050505" stroke-width="2.2" stroke-linecap="round"/>
<path d="M1485,325.6 L1491.6,356.3 L1498.3,355.2 L1485,377.2 L1471.7,355.2 L1478.4,356.3 Z" fill="#f9a5ac" stroke="#f3727d" stroke-width="2.2" stroke-linejoin="round"/>
</g>
<g clip-path="url(#rsi)">
<path d="M12.5,641.6 L17.5,632.4 L22.5,634.5 L27.5,640.4 L32.5,636.4 L37.5,631.4 L42.5,642.6 L47.5,625.8 L52.5,633.1 L57.5,636.0 L62.5,626.7 L67.5,615.6 L72.5,607.2 L77.5,600.8 L82.5,591.5 L87.5,592.0 L92.5,592.3 L97.5,585.2 L102.5,585.0 L107.5,584.6 L112.5,579.5 L117.5,579.4 L122.5,574.5 L127.5,571.0 L132.5,582.6 L137.5,574.9 L142.5,573.6 L147.5,568.4 L152.5,583.4 L157.5,578.5 L162.5,578.7 L167.5,580.2 L172.5,588.0 L177.5,595.1 L182.5,586.0 L187.5,601.5 L192.5,613.5 L197.5,584.6 L202.5,601.4 L208.5,593.6 L213.5,586.8 L218.5,582.2 L223.5,577.2 L228.5,573.7 L233.5,577.9 L238.5,588.1 L243.5,589.7 L248.5,584.1 L253.5,579.7 L258.5,575.1 L263.5,589.8 L268.5,589.5 L273.5,606.7 L278.5,604.6 L283.5,611.7 L288.5,602.4 L293.5,603.1 L298.5,603.1 L303.5,615.3 L308.5,611.0 L313.5,607.8 L318.5,603.9 L323.5,599.8 L328.5,594.0 L333.5,594.8 L338.5,597.4 L343.5,596.2 L348.5,577.4 L353.5,575.0 L358.5,590.9 L363.5,587.3 L368.5,586.8 L373.5,588.5 L378.5,590.4 L383.5,589.4 L388.5,582.4 L393.5,572.4 L398.5,582.3 L403.5,599.1 L408.5,593.0 L413.5,588.2 L418.5,586.1 L423.5,579.8 L428.5,583.7 L433.5,592.2 L438.5,595.3 L443.5,598.8 L448.5,590.9 L453.5,620.2 L458.5,620.2 L463.5,615.8 L468.5,619.0 L473.5,631.0 L478.5,631.5 L483.5,620.6 L488.5,619.9 L493.5,614.6 L498.5,608.4 L503.5,609.7 L508.5,619.4 L513.5,627.2 L518.5,625.5 L523.5,615.9 L528.5,610.5 L533.5,620.1 L538.5,618.9 L543.5,636.5 L548.5,640.9 L553.5,641.5 L558.5,633.5 L563.5,629.7 L568.5,643.7 L573.5,635.9 L578.5,634.9 L583.5,641.7 L588.5,636.5 L593.5,617.1 L598.5,611.8 L603.5,630.0 L608.5,643.4 L613.5,655.4 L618.5,656.4 L623.5,658.5 L628.5,658.7 L633.5,662.7 L638.5,659.2 L643.5,652.3 L648.5,653.2 L653.5,656.9 L658.5,658.8 L663.5,652.0 L668.5,643.3 L673.5,634.9 L678.5,631.2 L683.5,632.6 L688.5,621.9 L693.5,629.3 L698.5,633.6 L703.5,629.7 L709.5,628.7 L714.5,638.6 L719.5,660.1 L724.5,639.4 L729.5,628.8 L734.5,635.6 L739.5,635.7 L744.5,655.1 L749.5,662.5 L754.5,663.2 L759.5,654.9 L764.5,660.6 L769.5,658.3 L774.5,665.1 L779.5,643.8 L784.5,641.9 L789.5,646.0 L794.5,641.2 L799.5,646.7 L804.5,642.8 L809.5,635.4 L814.5,627.7 L819.5,629.0 L824.5,632.3 L829.5,636.4 L834.5,628.8 L839.5,617.3 L844.5,620.1 L849.5,602.6 L854.5,614.1 L859.5,613.0 L864.5,615.9 L869.5,613.8 L874.5,621.8 L879.5,626.6 L884.5,630.8 L889.5,627.2 L894.5,636.9 L899.5,638.6 L904.5,627.8 L909.5,622.9 L914.5,629.8 L919.5,628.2 L924.5,637.6 L929.5,627.8 L934.5,633.2 L939.5,634.8 L944.5,625.7 L949.5,628.4 L954.5,627.7 L959.5,634.5 L964.5,643.9 L969.5,637.3 L974.5,637.3 L979.5,623.8 L984.5,622.8 L989.5,624.2 L994.5,624.9 L999.5,631.8 L1004.5,638.2 L1009.5,642.0 L1014.5,647.1 L1019.5,648.4 L1024.5,654.8 L1029.5,656.2 L1034.5,652.6 L1039.5,641.4 L1044.5,644.0 L1049.5,629.4 L1054.5,629.6 L1059.5,630.1 L1064.5,627.6 L1069.5,618.8 L1074.5,613.1 L1079.5,600.6 L1084.5,610.3 L1089.5,603.1 L1094.5,607.1 L1099.5,622.1 L1104.5,630.4 L1109.5,634.2 L1114.5,626.6 L1119.5,622.8 L1124.5,601.9 L1129.5,597.8 L1134.5,584.1 L1139.5,582.8 L1144.5,610.1 L1149.5,609.7 L1154.5,609.1 L1159.5,619.7 L1164.5,621.9 L1169.5,617.6 L1174.5,613.5 L1179.5,621.8 L1184.5,626.7 L1189.5,617.8 L1194.5,624.5 L1199.5,618.2 L1205.5,615.7 L1210.5,617.0 L1215.5,608.7 L1220.5,626.4 L1225.5,612.9 L1230.5,616.8 L1235.5,617.3 L1240.5,622.6 L1245.5,623.3 L1250.5,627.0 L1255.5,613.1 L1260.5,616.5 L1265.5,613.8 L1270.5,624.7 L1275.5,630.4 L1280.5,623.1 L1285.5,621.2 L1290.5,628.1 L1295.5,624.8 L1300.5,630.7 L1305.5,642.9 L1310.5,633.1 L1315.5,625.0 L1320.5,618.2 L1325.5,625.4 L1330.5,626.5 L1335.5,612.9 L1340.5,601.5 L1345.5,607.8 L1350.5,613.1 L1355.5,616.3 L1360.5,618.3 L1365.5,614.8 L1370.5,617.8 L1375.5,608.5 L1380.5,599.2 L1385.5,594.8 L1390.5,585.5 L1395.5,600.0 L1400.5,593.6 L1405.5,598.9 L1410.5,607.7 L1415.5,614.9 L1420.5,610.5 L1425.5,609.5 L1430.5,602.0 L1435.5,604.6 L1440.5,604.2 L1445.5,603.3 L1450.5,607.9 L1455.5,608.9 L1460.5,599.5 L1465.5,591.1 L1470.5,587.5 L1475.5,584.2 L1480.5,578.8 L1485.5,580.2 L1490.5,597.1 L1495.5,602.0 L1500.5,600.6 L1505.5,605.9 L1510.5,605.4 L1515.5,614.0 L1520.5,612.2 L1525.5,604.6 L1530.5,603.1 L1535.5,589.3 L1540.5,586.8" fill="none" stroke="#7e57c2" stroke-width="1.2" stroke-linejoin="round" stroke-linecap="round" />
</g>
<g clip-path="url(#rsi)"><ellipse cx="763.5" cy="661.7" rx="35.3" ry="11.9" fill="#ff7043" fill-opacity="0.07" stroke="#ff9800" stroke-width="1.2"/><circle cx="1029.3" cy="654.8" r="21.2" fill="none" stroke="#f23645" stroke-width="1.1"/></g>
<line x1="1714.5" y1="34" x2="1714.5" y2="711" stroke="#333" stroke-width="1"/>
<line x1="13" y1="672.5" x2="1801" y2="672.5" stroke="#333" stroke-width="1"/>
<text x="1727.2" y="136.9" font-size="18" fill="#505050" font-weight="normal" text-anchor="start" textLength="60.3" lengthAdjust="spacingAndGlyphs" stroke="#505050" stroke-width="0.25">108.000</text>
<text x="1727.2" y="202.3" font-size="18" fill="#505050" font-weight="normal" text-anchor="start" textLength="60.3" lengthAdjust="spacingAndGlyphs" stroke="#505050" stroke-width="0.25">106.000</text>
<text x="1727.2" y="267.6" font-size="18" fill="#505050" font-weight="normal" text-anchor="start" textLength="60.3" lengthAdjust="spacingAndGlyphs" stroke="#505050" stroke-width="0.25">104.000</text>
<text x="1727.2" y="332.9" font-size="18" fill="#505050" font-weight="normal" text-anchor="start" textLength="60.3" lengthAdjust="spacingAndGlyphs" stroke="#505050" stroke-width="0.25">102.000</text>
<text x="1727.2" y="398.2" font-size="18" fill="#505050" font-weight="normal" text-anchor="start" textLength="60.3" lengthAdjust="spacingAndGlyphs" stroke="#505050" stroke-width="0.25">100.000</text>
<text x="1727.2" y="463.6" font-size="18" fill="#505050" font-weight="normal" text-anchor="start" textLength="52.1" lengthAdjust="spacingAndGlyphs" stroke="#505050" stroke-width="0.25">98.000</text>
<text x="1727.2" y="528.8" font-size="18" fill="#505050" font-weight="normal" text-anchor="start" textLength="52.1" lengthAdjust="spacingAndGlyphs" stroke="#505050" stroke-width="0.25">96.000</text>
<text x="1726.4" y="575.2" font-size="18" fill="#505050" font-weight="normal" text-anchor="start" textLength="43.5" lengthAdjust="spacingAndGlyphs" stroke="#505050" stroke-width="0.25">75.00</text>
<text x="1726.4" y="622.1" font-size="18" fill="#505050" font-weight="normal" text-anchor="start" textLength="43.5" lengthAdjust="spacingAndGlyphs" stroke="#505050" stroke-width="0.25">50.00</text>
<text x="1726.4" y="668.9" font-size="18" fill="#505050" font-weight="normal" text-anchor="start" textLength="43.5" lengthAdjust="spacingAndGlyphs" stroke="#505050" stroke-width="0.25">25.00</text>
<rect x="1715.2" y="373.2" width="81" height="24.7" rx="2" fill="#4caf50"/>
<text x="1727.5" y="391.8" font-size="17.5" fill="#fff" font-weight="bold" text-anchor="start" textLength="61.3" lengthAdjust="spacingAndGlyphs" >100.219</text>
<rect x="1719" y="39" width="78" height="31.5" rx="5" fill="#fff" stroke="#ebebeb" stroke-width="1.3"/>
<text x="1730.3" y="59.9" font-size="14.6" fill="#1a1a1a" font-weight="normal" text-anchor="start" textLength="26.2" lengthAdjust="spacingAndGlyphs" >USD</text>
<text x="54.2" y="698.3" font-size="18" fill="#454545" font-weight="normal" text-anchor="start" textLength="26.6" lengthAdjust="spacingAndGlyphs" stroke="#454545" stroke-width="0.25">Oct</text>
<text x="168.5" y="698.3" font-size="18" fill="#454545" font-weight="normal" text-anchor="start" textLength="28.0" lengthAdjust="spacingAndGlyphs" stroke="#454545" stroke-width="0.25">Nov</text>
<text x="274.4" y="698.3" font-size="18" fill="#454545" font-weight="normal" text-anchor="start" textLength="28.1" lengthAdjust="spacingAndGlyphs" stroke="#454545" stroke-width="0.25">Dec</text>
<text x="373.7" y="698.3" font-size="18.6" fill="#474747" font-weight="normal" text-anchor="start" textLength="39.6" lengthAdjust="spacingAndGlyphs" stroke="#474747" stroke-width="0.75" stroke-linejoin="round">2025</text>
<text x="489.9" y="698.3" font-size="18" fill="#454545" font-weight="normal" text-anchor="start" textLength="27.1" lengthAdjust="spacingAndGlyphs" stroke="#454545" stroke-width="0.25">Feb</text>
<text x="589.6" y="698.3" font-size="18" fill="#454545" font-weight="normal" text-anchor="start" textLength="27.7" lengthAdjust="spacingAndGlyphs" stroke="#454545" stroke-width="0.25">Mar</text>
<text x="696.0" y="698.3" font-size="18" fill="#454545" font-weight="normal" text-anchor="start" textLength="26.9" lengthAdjust="spacingAndGlyphs" stroke="#454545" stroke-width="0.25">Apr</text>
<text x="799.2" y="698.3" font-size="18" fill="#454545" font-weight="normal" text-anchor="start" textLength="30.6" lengthAdjust="spacingAndGlyphs" stroke="#454545" stroke-width="0.25">May</text>
<text x="911.2" y="698.3" font-size="18" fill="#454545" font-weight="normal" text-anchor="start" textLength="26.5" lengthAdjust="spacingAndGlyphs" stroke="#454545" stroke-width="0.25">Jun</text>
<text x="1018.1" y="698.3" font-size="18" fill="#454545" font-weight="normal" text-anchor="start" textLength="22.8" lengthAdjust="spacingAndGlyphs" stroke="#454545" stroke-width="0.25">Jul</text>
<text x="1130.2" y="698.3" font-size="18" fill="#454545" font-weight="normal" text-anchor="start" textLength="28.6" lengthAdjust="spacingAndGlyphs" stroke="#454545" stroke-width="0.25">Aug</text>
<text x="1236.7" y="698.3" font-size="18" fill="#454545" font-weight="normal" text-anchor="start" textLength="27.7" lengthAdjust="spacingAndGlyphs" stroke="#454545" stroke-width="0.25">Sep</text>
<text x="1347.2" y="698.3" font-size="18" fill="#454545" font-weight="normal" text-anchor="start" textLength="26.6" lengthAdjust="spacingAndGlyphs" stroke="#454545" stroke-width="0.25">Oct</text>
<text x="1461.5" y="698.3" font-size="18" fill="#454545" font-weight="normal" text-anchor="start" textLength="28.0" lengthAdjust="spacingAndGlyphs" stroke="#454545" stroke-width="0.25">Nov</text>
<text x="1561.5" y="698.3" font-size="18" fill="#454545" font-weight="normal" text-anchor="start" textLength="28.1" lengthAdjust="spacingAndGlyphs" stroke="#454545" stroke-width="0.25">Dec</text>
<text x="1665.7" y="698.3" font-size="18.6" fill="#474747" font-weight="normal" text-anchor="start" textLength="39.6" lengthAdjust="spacingAndGlyphs" stroke="#474747" stroke-width="0.75" stroke-linejoin="round">2026</text>
<text x="13.5" y="25.0" font-size="14.5" fill="#1a1a1a" font-weight="normal" text-anchor="start" textLength="529.1" lengthAdjust="spacingAndGlyphs" >GoldPredictorsAnalysis created with TradingView.com, Nov 20, 2025 01:50 UTC</text>
<text x="23.2" y="59.0" font-size="14.4" fill="#555" font-weight="normal" text-anchor="start" textLength="185.3" lengthAdjust="spacingAndGlyphs" >U.S. Dollar Index · 1D · TVC</text>
<text x="218.5" y="59.0" font-size="14.2" textLength="61.4" lengthAdjust="spacingAndGlyphs"><tspan fill="#555">O</tspan><tspan fill="#2e6b3f">100.173</tspan></text>
<text x="290.5" y="59.0" font-size="14.2" textLength="61.5" lengthAdjust="spacingAndGlyphs"><tspan fill="#555">H</tspan><tspan fill="#2e6b3f">100.220</tspan></text>
<text x="361.7" y="59.0" font-size="14.2" textLength="60.0" lengthAdjust="spacingAndGlyphs"><tspan fill="#555">L</tspan><tspan fill="#2e6b3f">100.130</tspan></text>
<text x="430.9" y="59.0" font-size="14.2" textLength="60.5" lengthAdjust="spacingAndGlyphs"><tspan fill="#555">C</tspan><tspan fill="#2e6b3f">100.219</tspan></text>
<text x="501.6" y="59.0" font-size="14.3" fill="#2e6b3f" font-weight="normal" text-anchor="start" textLength="105.7" lengthAdjust="spacingAndGlyphs" >+0.106 (+0.11%)</text>
<text x="23.2" y="79.8" font-size="14.3" fill="#555" font-weight="normal" text-anchor="start" textLength="101.5" lengthAdjust="spacingAndGlyphs" >SMA (50, close)</text>
<text x="134.7" y="79.8" font-size="14.3" fill="#2962ff" font-weight="normal" text-anchor="start" textLength="44.3" lengthAdjust="spacingAndGlyphs" >98.708</text>
<text x="23.2" y="101.0" font-size="14.3" fill="#555" font-weight="normal" text-anchor="start" textLength="108.9" lengthAdjust="spacingAndGlyphs" >SMA (200, close)</text>
<text x="142.3" y="101.0" font-size="14.3" fill="#222" font-weight="normal" text-anchor="start" textLength="44.1" lengthAdjust="spacingAndGlyphs" >99.918</text>
<text x="23.2" y="587.0" font-size="14.3" fill="#555" font-weight="normal" text-anchor="start" textLength="94.3" lengthAdjust="spacingAndGlyphs" opacity="0.9">RSI (14, close)</text>
<text x="127.7" y="587.0" font-size="14.3" fill="#7e57c2" font-weight="normal" text-anchor="start" textLength="36.1" lengthAdjust="spacingAndGlyphs" >65.83</text>
<g fill="#151515"><path d="M15.5,739.5 H30.6 V757.7 H23.1 V747 H15.5 Z"/><circle cx="36.9" cy="742.9" r="3.6"/><path d="M43.4,739.5 H52.7 L45.8,757.7 H36.9 Z"/></g>
<text x="62.2" y="757.7" font-size="25.3" fill="#151515" font-weight="bold" text-anchor="start" textLength="150.6" lengthAdjust="spacingAndGlyphs" >TradingView</text>
</svg>
</body></html>
